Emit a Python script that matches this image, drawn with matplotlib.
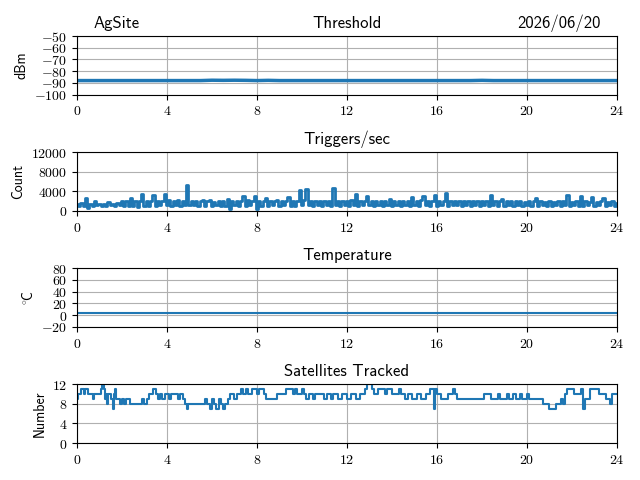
"""
Daily station summary plot: threshold, trigger rate, temperature, satellites
"""
import matplotlib
matplotlib.use('Agg')
import matplotlib.pyplot as plt
from matplotlib.ticker import FuncFormatter
import numpy as np

plt.rcParams['font.family'] = ['cmss10', 'DejaVu Sans']
plt.rcParams['mathtext.fontset'] = 'cm'
plt.rcParams['axes.unicode_minus'] = True

site = 'AgSite'
date = '2026/06/20'
hour_ticks = [0, 4, 8, 12, 16, 20, 24]

# threshold, every half hour (dBm)
thr_hours = [i * 0.5 for i in range(49)]
thr_dbm = [-88, -88, -88, -88, -88, -88, -88, -88, -88, -88,
           -88, -88, -87.7, -87.8, -87.7, -87.8, -88, -87.8, -88, -88,
           -88, -88, -88, -88, -88, -88, -88, -88, -88, -88,
           -88, -88, -88, -88, -88, -88, -87.8, -88, -88, -88,
           -88, -88, -88, -88, -88, -88, -88, -88, -88]

# triggers per second, every 0.1 hour
trig_hours = [i * 0.1 for i in range(241)]
trig_count = [
    1300, 900, 1500, 1000, 2600, 500, 1400, 1000, 2000, 1100,
    1400, 1000, 1300, 900, 1800, 1100, 1300, 1000, 1500, 1200,
    1900, 900, 2000, 1000, 2600, 1000, 1900, 800, 2100, 3400,
    1000, 2000, 900, 1900, 3300, 1000, 2100, 1100, 2000, 3500,
    1200, 2200, 1000, 2000, 1100, 2300, 1000, 2100, 1200, 5300,
    1100, 2000, 1200, 1900, 1000, 2100, 2300, 1000, 1900, 2200,
    1000, 1800, 1100, 2000, 900, 1900, 1000, 2400, 300, 1900,
    1100, 2000, 900, 2100, 3000, 1000, 2200, 1100, 2000, 3000,
    400, 1900, 1000, 2000, 2600, 900, 2100, 1100, 1900, 2300,
    1000, 2000, 1100, 2100, 2800, 900, 2000, 1000, 2100, 4200,
    1200, 2200, 4500, 1100, 2000, 1000, 2100, 1200, 1900, 1000,
    2000, 1100, 2100, 1000, 4700, 1200, 2000, 1000, 2100, 1100,
    2000, 1000, 2200, 1100, 3500, 1000, 2000, 1200, 1900, 3000,
    1100, 2000, 1000, 2100, 1200, 1900, 1000, 2000, 1100, 2500,
    1000, 2100, 1100, 1900, 1000, 2000, 1200, 2100, 1000, 2800,
    1100, 2000, 1000, 2200, 3000, 1100, 1900, 1000, 2100, 3300,
    1000, 2000, 1100, 2100, 3700, 1000, 2000, 1200, 1900, 1100,
    2000, 1000, 2100, 1100, 1900, 1000, 2000, 1100, 2000, 1000,
    1900, 1100, 2000, 1000, 3300, 1100, 2000, 1000, 1900, 2500,
    1000, 2000, 1100, 1900, 1000, 2100, 1100, 1900, 1000, 1800,
    1100, 1900, 1000, 2000, 2700, 1000, 1900, 1100, 1800, 1000,
    1900, 1000, 1800, 1100, 1900, 1000, 2000, 1100, 3300, 1000,
    1800, 1100, 1900, 1000, 3100, 1000, 1900, 1100, 1800, 2900,
    1000, 1800, 1100, 1900, 2700, 1000, 1800, 1100, 1900, 1000,
    1500]

# temperature, hourly (deg C)
temp_hours = list(range(25))
temp_c = [4, 4, 4, 4, 4, 4, 4, 4, 4, 4, 4, 4, 4,
          4, 4, 4, 4, 4, 4, 4, 4, 4, 4, 4, 4]

# satellites tracked, change points (steps-post)
sat_hours = [0.0, 0.05, 0.2, 0.3, 0.35, 0.5, 0.7, 0.75, 1.05, 1.1,
             1.2, 1.25, 1.3, 1.35, 1.4, 1.5, 1.6, 1.65, 1.7, 1.75,
             1.9, 2.0, 2.1, 2.2, 2.35, 2.9, 3.0, 3.1, 3.2, 3.4,
             3.5, 3.6, 3.7, 3.8, 3.9, 4.1, 4.2, 4.5, 4.6, 4.7,
             4.8, 4.9, 4.95, 5.7, 5.8, 5.9, 6.0, 6.1, 6.2, 6.3,
             6.4, 6.5, 6.6, 6.7, 6.8, 7.0, 7.1, 7.3, 7.4, 7.5,
             7.6, 7.8, 8.0, 8.1, 8.3, 8.4, 8.9, 9.3, 9.6, 9.7,
             9.8, 10.0, 10.1, 10.2, 10.3, 10.5, 10.6, 11.0, 11.1, 11.3,
             11.4, 11.6, 11.8, 12.0, 12.2, 12.4, 12.6, 12.8, 12.9, 13.1,
             13.2, 13.4, 13.7, 13.8, 14.0, 14.3, 14.4, 14.6, 14.7, 14.9,
             15.1, 15.3, 15.5, 15.7, 15.85, 15.9, 16.0, 16.2, 16.5, 16.7,
             16.8, 16.9, 18.1, 18.4, 18.7, 18.8, 19.1, 19.2, 19.4, 19.5,
             19.7, 19.8, 20.0, 20.1, 20.7, 21.0, 21.3, 21.5, 21.6, 21.7,
             21.8, 22.1, 22.4, 22.5, 22.6, 22.8, 23.2, 23.5, 23.7, 23.8,
             24.0]
sat_count = [9, 10, 11, 10, 11, 10, 9, 10, 11, 12,
             11, 9, 10, 8, 10, 9, 7, 10, 11, 9,
             8, 9, 8, 9, 8, 9, 8, 9, 10, 11,
             10, 9, 10, 9, 10, 9, 10, 9, 10, 9,
             8, 7, 8, 9, 8, 7, 9, 8, 7, 9,
             8, 7, 8, 9, 10, 9, 10, 11, 10, 11,
             10, 11, 10, 11, 10, 9, 10, 11, 10, 11,
             10, 11, 10, 9, 10, 9, 10, 9, 10, 9,
             10, 9, 10, 9, 10, 9, 10, 11, 12, 11,
             10, 11, 10, 11, 10, 11, 10, 9, 10, 9,
             10, 9, 10, 11, 7, 11, 10, 9, 10, 11,
             10, 9, 10, 9, 10, 9, 10, 9, 10, 9,
             10, 9, 10, 9, 8, 7, 8, 9, 8, 10,
             11, 10, 11, 7, 9, 11, 10, 9, 8, 10,
             10]


def math_fmt(v, pos):
    return '$%g$' % v


fig, axes = plt.subplots(4, 1, figsize=(6.4, 4.8), dpi=100)
fig.subplots_adjust(left=0.1203, right=0.964, top=0.925, bottom=0.077, hspace=0.98)

ax = axes[0]
ax.plot(thr_hours, thr_dbm, linewidth=2.5)
ax.set_ylim(-100, -50)
ax.set_yticks([-100, -90, -80, -70, -60, -50])
ax.set_ylabel('dBm')
ax.set_title('Threshold', fontsize=12)
ax.set_title(site, loc='left', fontsize=12, x=0.03)
ax.set_title(date, loc='right', fontsize=12, x=0.969)

ax = axes[1]
ax.plot(trig_hours, trig_count, drawstyle='steps-mid', linewidth=2)
ax.set_ylim(0, 12000)
ax.set_yticks([0, 4000, 8000, 12000])
ax.set_ylabel('Count')
ax.set_title('Triggers/sec', fontsize=12)

ax = axes[2]
ax.plot(temp_hours, temp_c, linewidth=1.5)
ax.set_ylim(-20, 80)
ax.set_yticks([-20, 0, 20, 40, 60, 80])
ax.set_ylabel(r'$^{\circ}\!\mathsf{C}$')
ax.set_title('Temperature', fontsize=12)

ax = axes[3]
ax.plot(sat_hours, sat_count, drawstyle='steps-post', linewidth=1.5)
ax.set_ylim(0, 12)
ax.set_yticks([0, 4, 8, 12])
ax.set_ylabel('Number')
ax.set_title('Satellites Tracked', fontsize=12)

for ax in axes:
    ax.set_xlim(0, 24)
    ax.set_xticks(hour_ticks)
    ax.xaxis.set_major_formatter(FuncFormatter(math_fmt))
    ax.yaxis.set_major_formatter(FuncFormatter(math_fmt))
    ax.tick_params(labelsize=10)
    ax.grid(True)

fig.savefig('out.png', dpi=100)
